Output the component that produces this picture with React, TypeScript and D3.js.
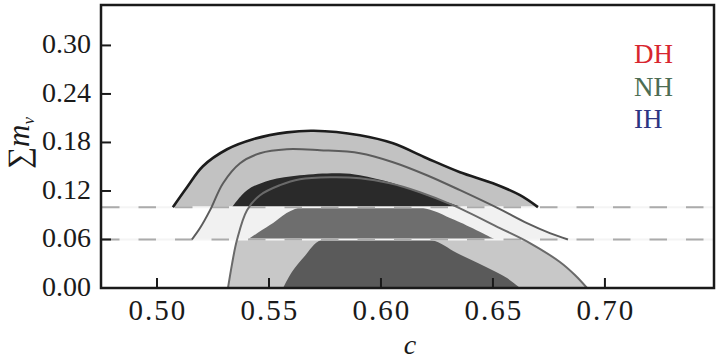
import React from 'react';
import * as d3 from 'd3';

const W = 717;
const H = 363;

const xTicks = [0.5, 0.55, 0.6, 0.65, 0.7];
const yTicks = [0.0, 0.06, 0.12, 0.18, 0.24, 0.3];
const bandEdges = [0.06, 0.1];
const legendLabels = ['DH', 'NH', 'IH'];
const legendColors = ['#d8252f', '#4d6d53', '#2c3482'];

type P = [number, number];

// DH 2σ contour (c, Σmν)
const dh2: P[] = [
  [0.5317, 0], [0.5335, 0.0296], [0.5357, 0.0593], [0.5402, 0.0963], [0.546, 0.1148],
  [0.5549, 0.1272], [0.5638, 0.1346], [0.5772, 0.137], [0.5906, 0.1358], [0.604, 0.1296],
  [0.6174, 0.1185], [0.6321, 0.1025], [0.6531, 0.0741], [0.6665, 0.0556], [0.6799, 0.0321],
  [0.6866, 0.016], [0.692, 0],
];
// DH 1σ contour (part below 0.06)
const dh1: P[] = [
  [0.5563, 0], [0.5603, 0.02], [0.5661, 0.04], [0.5737, 0.06],
  [0.6219, 0.06], [0.6339, 0.0432], [0.646, 0.0272], [0.6563, 0.0123], [0.6621, 0],
];
// NH 2σ contour
const nh2: P[] = [
  [0.5156, 0.06], [0.5192, 0.0741], [0.5237, 0.0963], [0.5295, 0.1296], [0.5371, 0.1543],
  [0.546, 0.1667], [0.558, 0.1716], [0.5728, 0.1704], [0.5906, 0.1667], [0.6054, 0.1556],
  [0.6205, 0.1395], [0.6353, 0.121], [0.6531, 0.0975], [0.6652, 0.0802], [0.6754, 0.0679],
  [0.6835, 0.06],
];
// NH 1σ contour (part between 0.06 and 0.10)
const nh1: P[] = [
  [0.5406, 0.06], [0.5504, 0.0778], [0.5638, 0.1],
  [0.6174, 0.1], [0.633, 0.084], [0.6509, 0.06],
];
// IH 2σ contour
const ih2: P[] = [
  [0.5071, 0.1], [0.5134, 0.1247], [0.5205, 0.1506], [0.5313, 0.1716], [0.5429, 0.184],
  [0.558, 0.1925], [0.57, 0.1945], [0.5906, 0.189], [0.6054, 0.179], [0.6205, 0.1605],
  [0.6353, 0.1432], [0.65, 0.1296], [0.6621, 0.1148], [0.6701, 0.1],
];
// IH 1σ contour
const ih1: P[] = [
  [0.5335, 0.1], [0.5402, 0.121], [0.5504, 0.1333], [0.5638, 0.1395], [0.5817, 0.142],
  [0.5906, 0.1395], [0.6054, 0.1296], [0.6205, 0.1148], [0.6308, 0.1049], [0.6362, 0.1],
];

export default function App() {
  const L = 101, R = 714, T = 5, B = 288;
  const x = d3.scaleLinear().domain([0.475, 0.7487]).range([L, R]);
  const y = d3.scaleLinear().domain([0, 0.35]).range([B, T]);
  const line = d3
    .line<P>()
    .x((d) => x(d[0]))
    .y((d) => y(d[1]))
    .curve(d3.curveCatmullRom.alpha(0.5));
  const shape = (pts: P[]) => (line(pts) || '') + 'Z';

  const serif = '"Liberation Serif", "Times New Roman", Times, serif';

  const bands = [
    { id: 'b0', lo: 0, hi: bandEdges[0] },
    { id: 'b1', lo: bandEdges[0], hi: bandEdges[1] },
    { id: 'b2', lo: bandEdges[1], hi: 0.35 },
  ];

  return (
    <svg
      width={W}
      height={H}
      style={{ position: 'absolute', left: 0, top: 0, background: '#fff' }}
    >
      <defs>
        {bands.map((b) => (
          <clipPath id={b.id} key={b.id}>
            <rect x={L} y={y(b.hi)} width={R - L} height={y(b.lo) - y(b.hi)} />
          </clipPath>
        ))}
        <clipPath id="plot">
          <rect x={L} y={T} width={R - L} height={B - T} />
        </clipPath>
      </defs>
      <rect x={0} y={0} width={W} height={H} fill="#fff" />

      <g clipPath="url(#b0)">
        <path d={shape(dh2)} fill="#c8c8c8" />
        <path d={shape(dh1)} fill="#5a5a5a" />
      </g>
      <g clipPath="url(#b1)">
        <path d={shape(nh2)} fill="#f1f1f1" />
        <path d={shape(nh1)} fill="#6e6e6e" />
      </g>
      <g clipPath="url(#b2)">
        <path d={shape(ih2)} fill="#c2c2c2" />
        <path d={shape(ih1)} fill="#2a2a2a" />
      </g>

      {bandEdges.map((v) => (
        <line key={'s' + v} x1={L} x2={R} y1={y(v)} y2={y(v)} stroke="#f4f4f4" strokeWidth={2} />
      ))}
      {bandEdges.map((v) => (
        <line
          key={'d' + v}
          x1={L + 1}
          x2={R}
          y1={y(v)}
          y2={y(v)}
          stroke="#ababab"
          strokeWidth={2}
          strokeDasharray="17.5 19"
        />
      ))}

      <g clipPath="url(#plot)" fill="none">
        <path d={line(dh2) || ''} stroke="#6a6a6a" strokeWidth={2} />
        <path d={line(nh2) || ''} stroke="#5c5c5c" strokeWidth={2} />
        <path d={line(ih2) || ''} stroke="#1c1c1c" strokeWidth={2.6} />
      </g>

      <rect x={L} y={T} width={R - L} height={B - T} fill="none" stroke="#1a1a1a" strokeWidth={2.5} />

      {xTicks.map((t) => (
        <g key={'x' + t}>
          <line x1={x(t)} x2={x(t)} y1={B} y2={B - 10} stroke="#1a1a1a" strokeWidth={2} />
          <text
            x={x(t) + 1}
            y={320}
            textAnchor="middle"
            fontFamily={serif}
            fontSize={29}
            letterSpacing={2}
            fill="#1a1a1a"
          >
            {t.toFixed(2)}
          </text>
        </g>
      ))}
      {yTicks.map((t) => (
        <g key={'y' + t}>
          <line x1={L} x2={L + 10} y1={y(t)} y2={y(t)} stroke="#1a1a1a" strokeWidth={2} />
          <text
            x={91}
            y={y(t) + 8}
            textAnchor="end"
            fontFamily={serif}
            fontSize={28}
            fill="#1a1a1a"
          >
            {t.toFixed(2)}
          </text>
        </g>
      ))}

      <text
        transform={`translate(29,143) rotate(-90)`}
        textAnchor="middle"
        fontFamily={serif}
        fontSize={31}
        fill="#1a1a1a"
      >
        <tspan>∑</tspan>
        <tspan fontStyle="italic">m</tspan>
        <tspan fontStyle="italic" fontSize={17} dy={5}>ν</tspan>
      </text>
      <text x={410} y={354} textAnchor="middle" fontFamily={serif} fontStyle="italic" fontSize={28} fill="#1a1a1a">
        c
      </text>

      {legendLabels.map((l, i) => (
        <text key={l} x={634} y={63 + i * 32.5} fontFamily={serif} fontSize={27} fill={legendColors[i]}>
          {l}
        </text>
      ))}
    </svg>
  );
}
